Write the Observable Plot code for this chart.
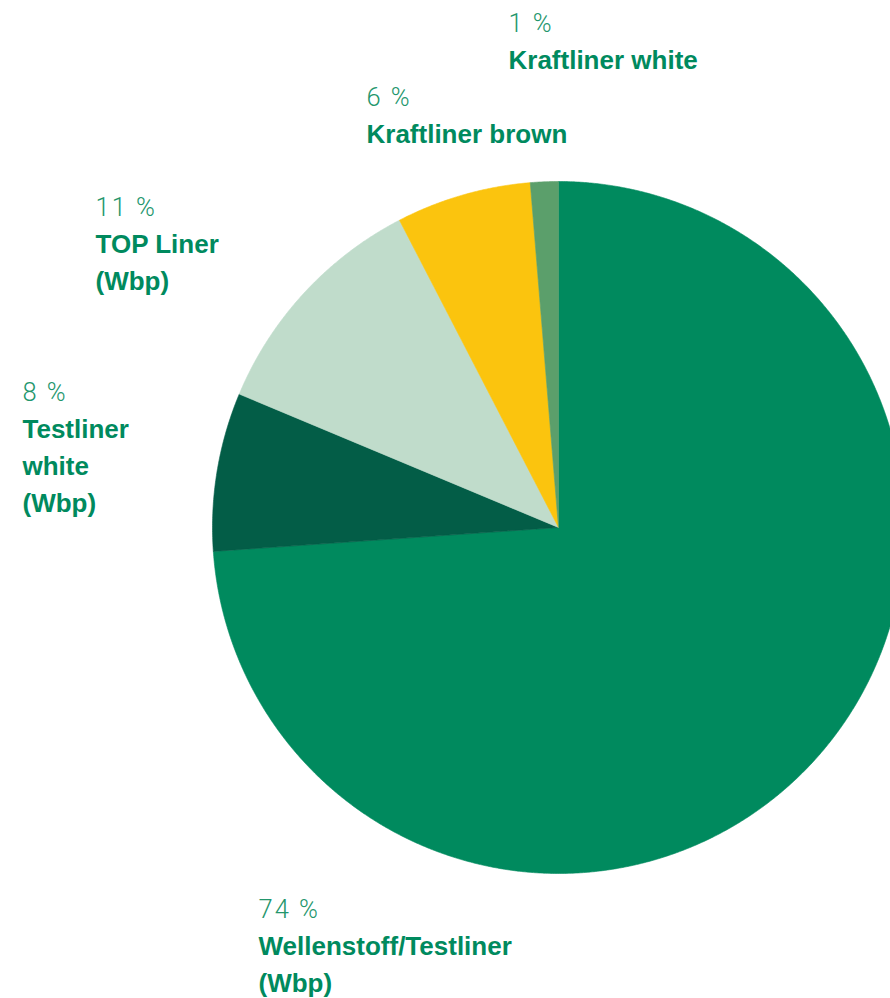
<!DOCTYPE html>
<html>
<head>
<meta charset="utf-8">
<script src="https://cdn.jsdelivr.net/npm/d3@7"></script>
<script src="https://cdn.jsdelivr.net/npm/@observablehq/plot@0.6"></script>
<style>
  html, body { margin: 0; padding: 0; background: #fff; }
  #chart { width: 890px; height: 998px; overflow: hidden; }
  .pct text { font-weight: 300; letter-spacing: 2px; }
</style>
</head>
<body>
<div id="chart"></div>
<script>
// ---- data ----
const categories = [
  "Wellenstoff/Testliner\n(Wbp)",
  "Testliner\nwhite\n(Wbp)",
  "TOP Liner\n(Wbp)",
  "Kraftliner brown",
  "Kraftliner white"
];
const shares = [73.9, 7.4, 11.1, 6.3, 1.3];          // slice sizes
const pctLabels = ["74 %", "8 %", "11 %", "6 %", "1 %"]; // printed labels
const colors = ["#008a5e", "#035d47", "#c0dccb", "#fbc40e", "#5b9f6b"];

// ---- layout (not data) ----
const W = 890, H = 998;
const cx = 558, cy = 527, R = 346;
const labelX = [258, 22, 95, 366, 508];
const labelY = [917, 400, 215, 105, 31];
const lineGap = 37;

// ---- build slice polygons from the values ----
const arcs = d3.pie().sort(null).startAngle(0).endAngle(2 * Math.PI)(shares);
const polyPts = [];
arcs.forEach((a, i) => {
  const name = categories[i];
  polyPts.push({name, x: cx, y: cy});
  const n = Math.max(2, Math.ceil((a.endAngle - a.startAngle) / 0.005));
  for (let k = 0; k <= n; k++) {
    const t = a.startAngle + (a.endAngle - a.startAngle) * k / n;
    polyPts.push({name, x: cx + R * Math.sin(t), y: cy - R * Math.cos(t)});
  }
  polyPts.push({name, x: cx, y: cy});
});

// ---- text lines ----
const pctRows = categories.map((c, i) => ({text: pctLabels[i], x: labelX[i], y: labelY[i]}));
const nameRows = [];
categories.forEach((c, i) => {
  c.split("\n").forEach((line, j) => {
    nameRows.push({text: line, x: labelX[i], y: labelY[i] + lineGap * (j + 1)});
  });
});

const chart = Plot.plot({
  width: W,
  height: H,
  margin: 0,
  x: {domain: [0, W], range: [0, W], axis: null},
  y: {domain: [0, H], range: [0, H], axis: null},
  color: {domain: categories, range: colors},
  style: {background: "#fff"},
  marks: [
    Plot.line(polyPts, {x: "x", y: "y", z: "name", fill: "name", stroke: "name", strokeWidth: 0.6, curve: "linear"}),
    Plot.text(pctRows, {
      x: "x", y: "y", text: "text", textAnchor: "start", lineAnchor: "bottom",
      fontSize: 25.5, fill: "#23966c", fontFamily: "Roboto, 'Liberation Sans', sans-serif",
      fontWeight: 300, className: "pct"
    }),
    Plot.text(nameRows, {
      x: "x", y: "y", text: "text", textAnchor: "start", lineAnchor: "bottom",
      fontSize: 26, fill: "#008a5e", fontFamily: "'Liberation Sans', Arial, sans-serif",
      fontWeight: "bold"
    })
  ]
});
document.getElementById("chart").appendChild(chart);
</script>
</body>
</html>
